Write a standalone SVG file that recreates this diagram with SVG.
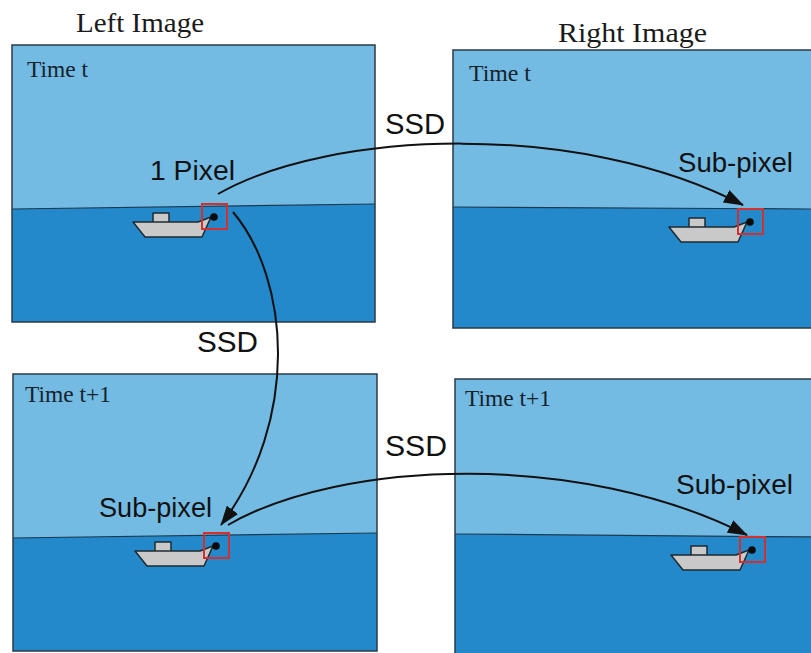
<svg xmlns="http://www.w3.org/2000/svg" width="811" height="653" viewBox="0 0 811 653">
  <style>
    .sky { fill: #74BBE4; }
    .water { fill: #2389CB; }
    .frame { fill: none; stroke: #2b3a45; stroke-width: 1.5; }
    .horizon { fill: none; stroke: #1d3a50; stroke-width: 1.2; }
    .hull, .cabin { fill: #C9C9C9; stroke: #1e2a30; stroke-width: 1.5; stroke-linejoin: round; }
    .win { fill: none; stroke: #D3312F; stroke-width: 2; }
    .dot { fill: #0b0b0b; }
    .title { font-family: "Liberation Serif", "Times New Roman", serif; font-size: 28px; fill: #1a1a1a; }
    .time { font-family: "Liberation Serif", "Times New Roman", serif; font-size: 24px; fill: #14222c; }
    .lbl { font-family: "Liberation Sans", Arial, sans-serif; font-size: 27px; fill: #111; }
    .ssd { font-family: "Liberation Sans", Arial, sans-serif; font-size: 29px; fill: #111; }
    .conn { fill: none; stroke: #111; stroke-width: 2; marker-end: url(#head); }
  </style>
  <defs>
    <marker id="head" viewBox="0 0 20 14" refX="19" refY="7" markerWidth="20" markerHeight="14" markerUnits="userSpaceOnUse" orient="auto">
      <path d="M0,0 L20,7 L0,14 Z" fill="#111"/>
    </marker>
    <!-- boat with tracked point at the origin -->
    <g id="boat">
      <rect class="cabin" x="-61" y="-4" width="16" height="10"/>
      <path class="hull" d="M-81,5 L-16,5 L-3,0 L-12,20 L-69,20 Z"/>
      <rect class="win" x="-12" y="-13" width="25" height="25"/>
      <circle class="dot" cx="0" cy="0" r="3.8"/>
    </g>
  </defs>

  <rect x="0" y="0" width="811" height="653" fill="#ffffff"/>

  <text class="title" x="76" y="32" textLength="128" lengthAdjust="spacingAndGlyphs">Left Image</text>
  <text class="title" x="558" y="42" textLength="149" lengthAdjust="spacingAndGlyphs">Right Image</text>

  <g id="left-t">
    <rect class="sky" x="12" y="45" width="363" height="277"/>
    <polygon class="water" points="12,209 375,204 375,322 12,322"/>
    <line class="horizon" x1="12" y1="209" x2="375" y2="204"/>
    <rect class="frame" x="12" y="45" width="363" height="277"/>
    <text class="time" x="27" y="77" textLength="61" lengthAdjust="spacingAndGlyphs">Time t</text>
    <use href="#boat" x="214" y="217"/>
  </g>

  <g id="right-t">
    <rect class="sky" x="453" y="50" width="360" height="278"/>
    <polygon class="water" points="453,207 813,209 813,328 453,328"/>
    <line class="horizon" x1="453" y1="207" x2="813" y2="209"/>
    <rect class="frame" x="453" y="50" width="362" height="278"/>
    <text class="time" x="469" y="81" textLength="62" lengthAdjust="spacingAndGlyphs">Time t</text>
    <use href="#boat" x="750" y="222"/>
  </g>

  <g id="left-t1">
    <rect class="sky" x="13" y="374" width="364" height="277"/>
    <polygon class="water" points="13,538 377,533 377,651 13,651"/>
    <line class="horizon" x1="13" y1="538" x2="377" y2="533"/>
    <rect class="frame" x="13" y="374" width="364" height="277"/>
    <text class="time" x="25" y="402" textLength="86" lengthAdjust="spacingAndGlyphs">Time t+1</text>
    <use href="#boat" x="216" y="546"/>
  </g>

  <g id="right-t1">
    <rect class="sky" x="455" y="379" width="360" height="280"/>
    <polygon class="water" points="455,534 815,537 815,659 455,659"/>
    <line class="horizon" x1="455" y1="534" x2="815" y2="537"/>
    <rect class="frame" x="455" y="379" width="362" height="280"/>
    <text class="time" x="465" y="406" textLength="86" lengthAdjust="spacingAndGlyphs">Time t+1</text>
    <use href="#boat" x="752" y="550"/>
  </g>

  <g id="connectors">
    <path class="conn" d="M218,194 C330,130 580,120 743,205"/>
    <path class="conn" d="M233,212 C290,280 300,420 221,525"/>
    <path class="conn" d="M228,525 C340,460 580,450 747,535"/>
  </g>

  <g id="labels">
    <text class="lbl" x="150" y="180" textLength="85" lengthAdjust="spacingAndGlyphs">1 Pixel</text>
    <text class="lbl" x="678" y="172" textLength="115" lengthAdjust="spacingAndGlyphs">Sub-pixel</text>
    <text class="lbl" x="99" y="517" textLength="113" lengthAdjust="spacingAndGlyphs">Sub-pixel</text>
    <text class="lbl" x="676" y="494" textLength="117" lengthAdjust="spacingAndGlyphs">Sub-pixel</text>
    <text class="ssd" x="385" y="134" textLength="60" lengthAdjust="spacingAndGlyphs">SSD</text>
    <text class="ssd" x="197" y="352" textLength="61" lengthAdjust="spacingAndGlyphs">SSD</text>
    <text class="ssd" x="385" y="456" textLength="62" lengthAdjust="spacingAndGlyphs">SSD</text>
  </g>
</svg>
